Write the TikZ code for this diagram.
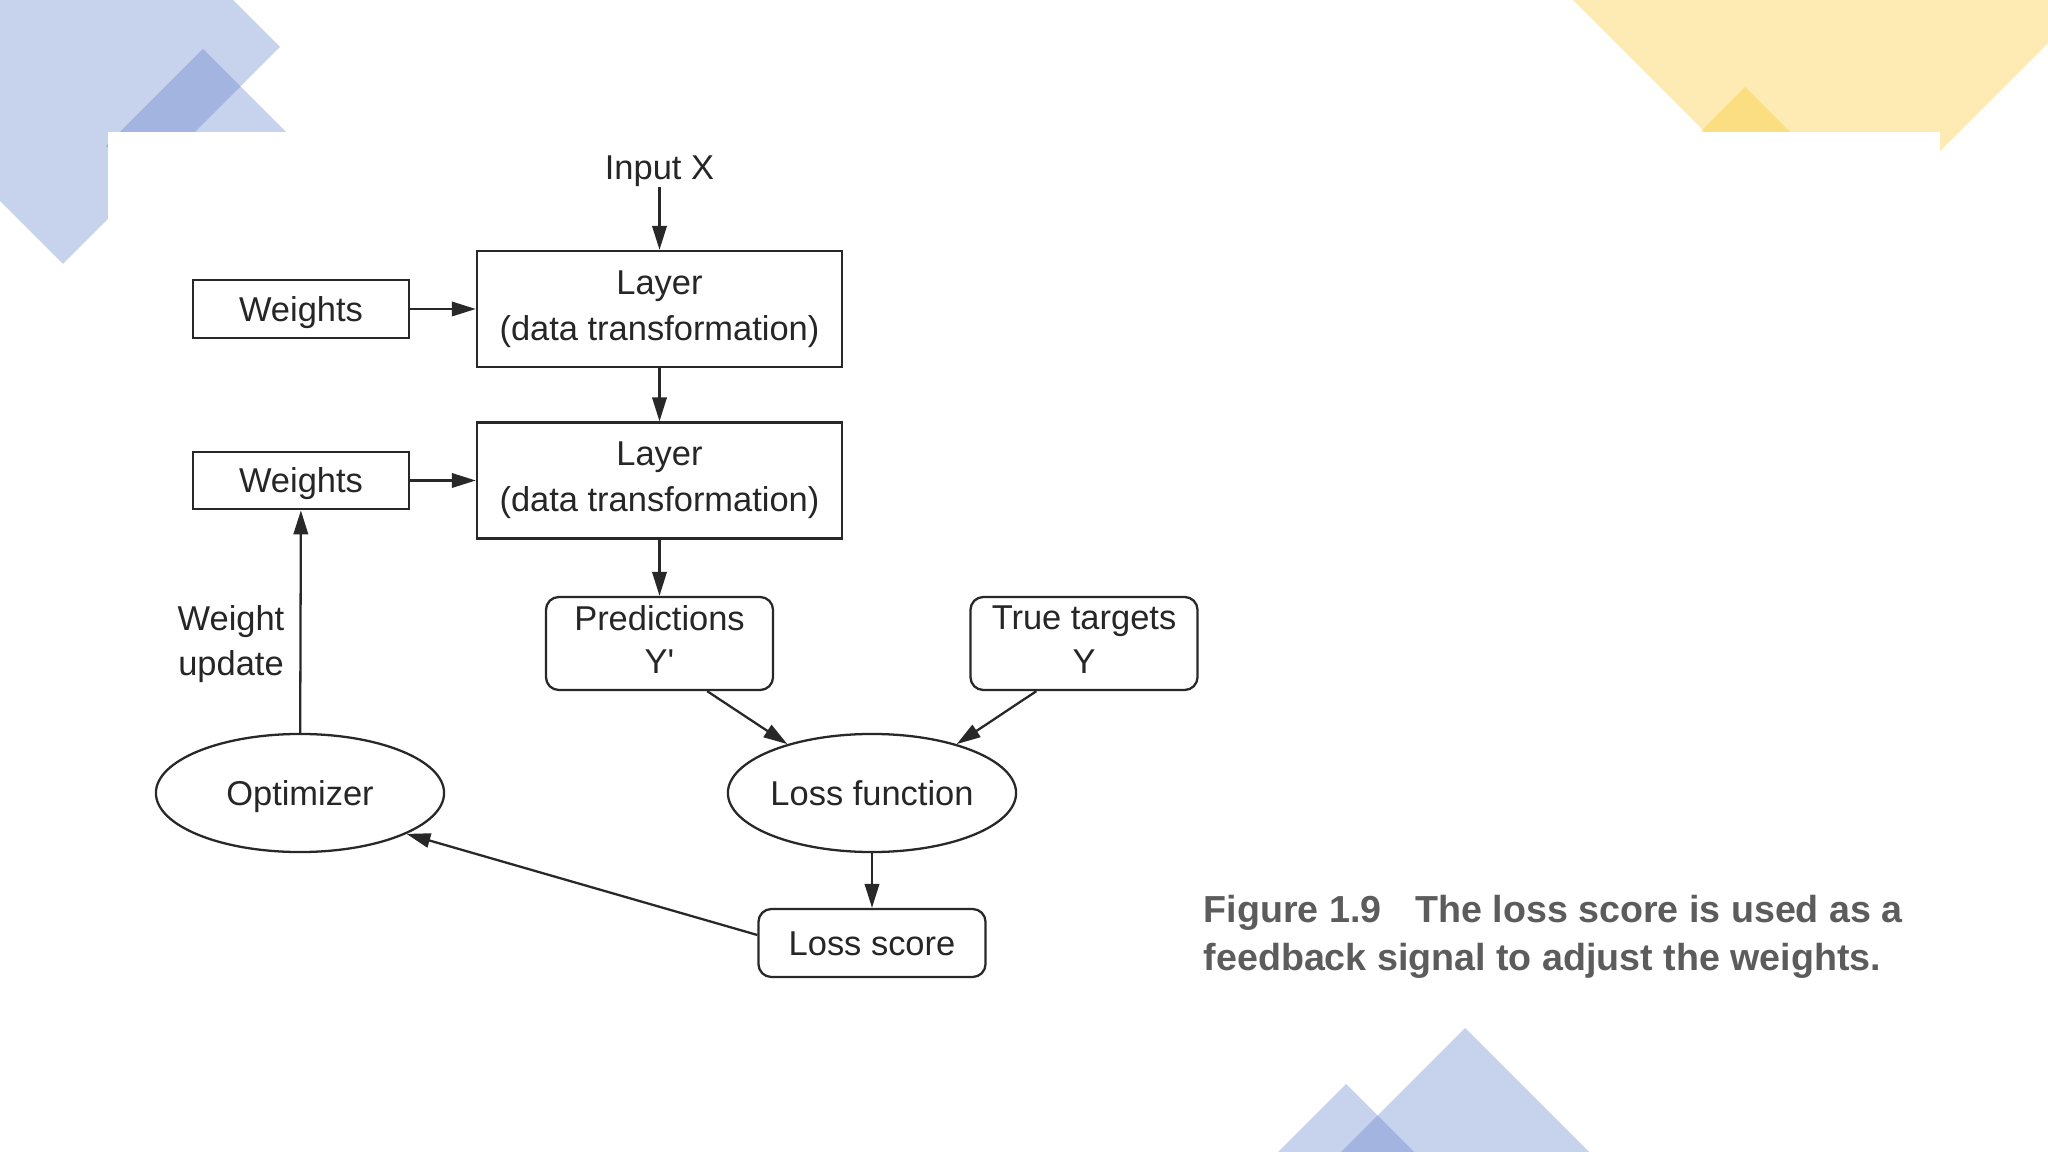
\documentclass[tikz,border=0pt]{standalone}
\usepackage{fontspec}
\setmainfont{Liberation Sans}
\usetikzlibrary{arrows.meta,positioning,shapes.geometric}
\definecolor{decblue}{RGB}{88,119,198}
\definecolor{decyel}{RGB}{250,198,38}
\definecolor{linegray}{RGB}{40,40,40}
\definecolor{capgray}{RGB}{92,92,92}
\tikzset{
  flowarr/.style={-{Triangle[length=6.8pt,width=4.1pt]}, linegray, line width=0.65pt},
  lbl/.style={font=\fontsize{9.8}{13}\selectfont, text=black!85},
  layerbox/.style={lbl, draw=linegray, line width=0.65pt, minimum width=3.65cm,
                   minimum height=1.16cm, align=center, inner sep=0pt},
  wbox/.style={lbl, draw=linegray, line width=0.65pt, minimum width=2.16cm,
               minimum height=0.575cm, inner sep=0pt, text height=7pt, text depth=0pt},
  rbox/.style={lbl, draw=linegray, line width=0.65pt, rounded corners=0.13cm,
               minimum width=2.27cm, minimum height=0.93cm, align=center, inner sep=0pt},
  oval/.style={lbl, ellipse, draw=linegray, line width=0.65pt, minimum width=2.88cm,
               minimum height=1.18cm, inner sep=0pt, text height=7pt, text depth=0pt},
  captxt/.style={anchor=base west, inner sep=0pt, text=capgray,
                 font=\fontsize{10.7}{13}\selectfont\bfseries},
}

\begin{document}
\begin{tikzpicture}[x=0.01cm, y=-0.01cm]
  \useasboundingbox (0,0) rectangle (2048,1152);
  \fill[white] (0,0) rectangle (2048,1152);
  \fill[decblue, opacity=0.33] (0,0) -- (233,0) -- (280,47) -- (63,264) -- (0,201) -- cycle;
  \fill[decblue, opacity=0.33] (203,49) -- (300,146) -- (203,243) -- (106,146) -- cycle;
  \fill[decyel, opacity=0.35] (1573,0) -- (2048,0) -- (2048,43) -- (1832,259) -- cycle;
  \fill[decyel, opacity=0.35] (1745,87) -- (1800,142) -- (1745,197) -- (1690,142) -- cycle;
  \fill[white] (108,132) rectangle (1940,1152);

  \node[lbl, inner sep=2pt, text height=7pt, text depth=0pt] (inx) at (659.5,167) {Input X};
  \node[layerbox] (lay1) at (659.5,309) {Layer\\(data transformation)};
  \node[layerbox] (lay2) at (659.5,480.5) {Layer\\(data transformation)};
  \node[wbox] (w1) at (301,309) {Weights};
  \node[wbox] (w2) at (301,480.5) {Weights};
  \node[rbox] (pred) at (659.5,643.5) {Predictions\\[-0.6pt]Y\textquotesingle\rule[-2.2pt]{0pt}{0pt}};
  \node[rbox] (targ) at (1084,643.5) {True targets\\[-0.6pt]Y\rule[-2.2pt]{0pt}{0pt}};
  \node[oval] (lossfn) at (872,793) {Loss function};
  \node[oval] (optim) at (300,793) {Optimizer};
  \node[rbox, minimum height=0.68cm, text height=7pt, text depth=0pt] (lscore) at (872,943) {Loss score};
  \node[lbl, align=center] (wupd) at (231,644) {Weight\\update};

  \draw[flowarr] (inx) -- (lay1);
  \draw[flowarr] (w1) -- (lay1);
  \draw[flowarr] (lay1) -- (lay2);
  \draw[flowarr] (w2) -- (lay2);
  \draw[flowarr] (lay2) -- (pred);
  \draw[flowarr] (pred.-45) -- (lossfn.150);
  \draw[flowarr] (targ.-135) -- (lossfn.30);
  \draw[flowarr] (lossfn) -- (lscore);
  \draw[flowarr] (lscore.176) -- (optim.-21);
  \draw[flowarr] (optim) -- (w2);

  \node[captxt] (cap1) at (1203,922) {Figure 1.9\hspace{0.9em}The loss score is used as a};
  \node[captxt] (cap2) at (1203,970) {feedback signal to adjust the weights.};

  \fill[decblue, opacity=0.33] (1465,1028) -- (1589,1152) -- (1341,1152) -- cycle;
  \fill[decblue, opacity=0.33] (1346,1084) -- (1414,1152) -- (1278,1152) -- cycle;
\end{tikzpicture}
\end{document}
